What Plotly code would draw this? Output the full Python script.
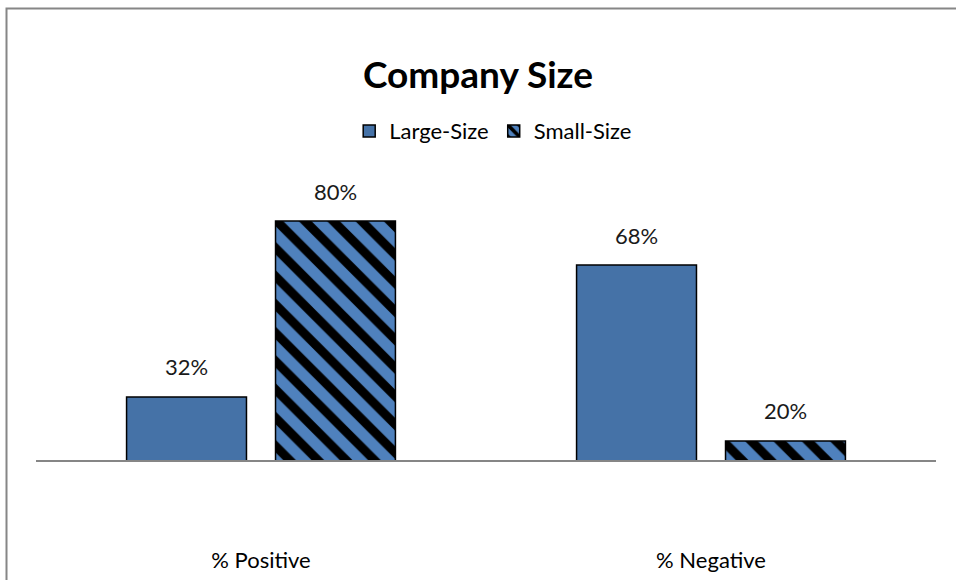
import plotly.graph_objects as go

categories = ["% Positive", "% Negative"]
large_size = [0.32, 0.68]
small_size = [0.80, 0.20]
series_names = ["Large-Size", "Small-Size"]

FONT = "Lato, Calibri, sans-serif"
LABEL_FONT = dict(size=22, color="#1a1a1a", family=FONT)

fig = go.Figure()
fig.add_trace(go.Bar(
    x=categories, y=large_size, name=series_names[0],
    marker=dict(color="#4572A7", line=dict(color="#000000", width=1.5)),
))
fig.add_trace(go.Bar(
    x=categories, y=small_size, name=series_names[1],
    marker=dict(color="#4F81BD", line=dict(color="#000000", width=1.5),
                pattern=dict(shape="\\", fgcolor="#000000", fgopacity=1,
                             bgcolor="#4F81BD", size=20, solidity=0.45,
                             fillmode="replace")),
))

# data labels above bars (grouped offset of half a bar slot)
slot_px = 149
for series, xs in ((large_size, -slot_px / 2), (small_size, slot_px / 2)):
    for cat, val in zip(categories, series):
        fig.add_annotation(x=cat, y=val, text=f"{val:.0%}", showarrow=False,
                           xshift=xs, yshift=30, font=LABEL_FONT)

fig.update_layout(
    width=956, height=580,
    margin=dict(l=36, r=20, t=150, b=120, autoexpand=False),
    paper_bgcolor="white", plot_bgcolor="white",
    barmode="group", bargap=0.338, bargroupgap=0.195,
    font=dict(family=FONT, size=22, color="#000000"),
    title=dict(text="<b>Company Size</b>", x=0.5, xanchor="center",
               y=1 - 75 / 580, yanchor="middle",
               font=dict(size=37, family=FONT, color="#000000")),
    legend=dict(orientation="h", x=0.508, xanchor="center", y=1.061, yanchor="middle",
                font=dict(size=22, family=FONT, color="#000000"),
                itemwidth=30, tracegroupgap=0),
    showlegend=True,
)
fig.update_xaxes(showline=True, linecolor="#868686", linewidth=1.5, automargin=False,
                 ticks="", tickfont=dict(size=22, family=FONT, color="#000000"),
                 ticklabelstandoff=80, showgrid=False)
fig.update_yaxes(range=[0.148, 0.994], visible=False, showgrid=False, automargin=False)

# chart border
fig.add_shape(type="rect", xref="paper", yref="paper",
              x0=(6.5 - 36) / 900, x1=(962 - 36) / 900,
              y0=(460 - 590) / 310, y1=(460 - 8.5) / 310,
              line=dict(color="#868686", width=2), layer="below")

fig.write_html("out.html", config={"displayModeBar": False},
               post_script="document.body.style.margin='0px';document.body.style.padding='0px';")
